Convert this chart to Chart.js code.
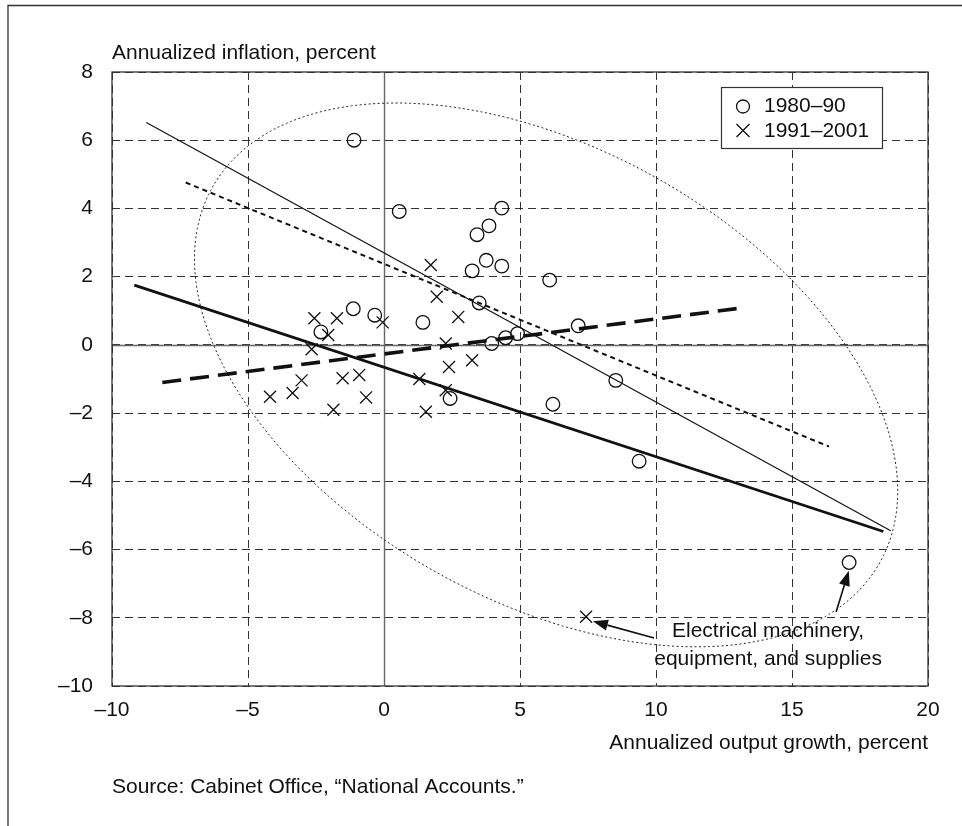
<!DOCTYPE html>
<html>
<head>
<meta charset="utf-8">
<script src="https://cdn.jsdelivr.net/npm/chart.js@4.4.1/dist/chart.umd.min.js"></script>
<style>
html,body{margin:0;padding:0;background:#fff;}
#wrap{width:962px;height:826px;position:relative;}
</style>
</head>
<body>
<div id="wrap"><canvas id="c" width="962" height="826"></canvas></div>
<script>
// ---- data ----
const growth80    = [-1.1, 0.56, 4.33, 3.86, 3.42, 3.76, 3.24, 4.33, 6.09, 3.50, -1.13, -0.34, 1.43, 7.14, 4.91, 4.47, 3.96, 8.52, 2.43, 6.21, -2.32, 9.38, 17.1];
const inflation80 = [6.0, 3.91, 4.01, 3.49, 3.23, 2.48, 2.17, 2.31, 1.90, 1.23, 1.06, 0.87, 0.66, 0.56, 0.33, 0.21, 0.04, -1.04, -1.57, -1.74, 0.38, -3.41, -6.38];
const growth91    = [-2.56, -1.73, -0.05, -2.05, -2.66, -3.03, -1.52, -0.91, -4.19, -3.36, -0.66, -1.86, 1.72, 1.94, 2.73, 2.27, 2.39, 3.24, 1.30, 2.27, 1.54, 7.43];
const inflation91 = [0.78, 0.78, 0.66, 0.29, -0.13, -1.04, -0.98, -0.88, -1.52, -1.41, -1.54, -1.90, 2.34, 1.41, 0.82, 0.04, -0.65, -0.45, -1.00, -1.33, -1.96, -7.97];

// regression lines (start / end)
const thinLineX  = [-8.74, 18.63];
const thinLineY  = [6.52, -5.45];
const thickLineX = [-9.18, 18.36];
const thickLineY = [1.75, -5.47];
const dotLineX   = [-7.29, 16.36];
const dotLineY   = [4.76, -2.98];
const dashLineX  = [-8.15, 13.22];
const dashLineY  = [-1.10, 1.09];

// outlier ellipse (data units): centre and conjugate semi-diameters
const ellipseCentre = [5.96, -0.88];
const ellipseU = [12.27, -5.50];
const ellipseV = [-4.07, -5.77];

// annotation arrows [fromX, fromY, toX, toY]
const arrow1 = [9.93, -8.59, 7.68, -8.10];
const arrow2 = [16.62, -7.83, 17.09, -6.62];
const noteText = ['Electrical machinery,', 'equipment, and supplies'];
const noteAt = [14.12, -8.39];

const seriesNames = ['1980\u201390', '1991\u20132001'];
const xTickValues = [-10, -5, 0, 5, 10, 15, 20];
const yTickValues = [-10, -8, -6, -4, -2, 0, 2, 4, 6, 8];
const xTitle = 'Annualized output growth, percent';
const yTitle = 'Annualized inflation, percent';
const sourceText = 'Source: Cabinet Office, \u201cNational Accounts.\u201d';

// ---- helpers ----
const pts = (xs, ys) => xs.map((x, i) => ({x: x, y: ys[i]}));
const dashLabel = v => (v < 0 ? '\u2013' + Math.abs(v) : String(v));

const FONT = "'Liberation Sans', Arial, Helvetica, sans-serif";
Chart.defaults.font.family = FONT;
Chart.defaults.font.size = 21;
Chart.defaults.color = '#111';

const decor = {
  id: 'decor',
  beforeDatasetsDraw(chart) {
    const ctx = chart.ctx, xs = chart.scales.x, ys = chart.scales.y, a = chart.chartArea;
    ctx.save();
    // zero lines
    ctx.strokeStyle = '#666'; ctx.lineWidth = 1.4; ctx.setLineDash([]);
    ctx.beginPath();
    const x0 = Math.round(xs.getPixelForValue(0)) + 0.5;
    const y0 = Math.round(ys.getPixelForValue(0)) + 0.5;
    ctx.moveTo(x0, a.top); ctx.lineTo(x0, a.bottom);
    ctx.moveTo(a.left, y0); ctx.lineTo(a.right, y0);
    ctx.stroke();
    // plot frame
    ctx.strokeStyle = '#333'; ctx.lineWidth = 1.3;
    ctx.strokeRect(a.left, a.top, a.right - a.left, a.bottom - a.top);
    // ellipse
    ctx.strokeStyle = '#222'; ctx.lineWidth = 1; ctx.setLineDash([2, 2.5]);
    ctx.beginPath();
    for (let i = 0; i <= 360; i++) {
      const t = i * Math.PI / 180;
      const dx = ellipseCentre[0] + ellipseU[0] * Math.cos(t) + ellipseV[0] * Math.sin(t);
      const dy = ellipseCentre[1] + ellipseU[1] * Math.cos(t) + ellipseV[1] * Math.sin(t);
      const px = xs.getPixelForValue(dx), py = ys.getPixelForValue(dy);
      if (i === 0) ctx.moveTo(px, py); else ctx.lineTo(px, py);
    }
    ctx.stroke();
    ctx.restore();
  },
  afterDraw(chart) {
    const ctx = chart.ctx, xs = chart.scales.x, ys = chart.scales.y, a = chart.chartArea;
    ctx.save();
    // outer frame (top + left)
    ctx.strokeStyle = '#333'; ctx.lineWidth = 1.3; ctx.setLineDash([]);
    ctx.beginPath();
    ctx.moveTo(8, 826); ctx.lineTo(8, 5.5); ctx.lineTo(962, 5.5);
    ctx.stroke();
    // titles
    ctx.fillStyle = '#111';
    ctx.font = '21px ' + FONT;
    ctx.textBaseline = 'middle';
    ctx.textAlign = 'left';
    ctx.fillText(yTitle, a.left, 53);
    ctx.textAlign = 'right';
    ctx.fillText(xTitle, a.right, 743);
    ctx.textAlign = 'left';
    ctx.fillText(sourceText, a.left, 787);
    // arrows
    [arrow1, arrow2].forEach(ar => {
      const fx = xs.getPixelForValue(ar[0]), fy = ys.getPixelForValue(ar[1]);
      const tx = xs.getPixelForValue(ar[2]), ty = ys.getPixelForValue(ar[3]);
      const ang = Math.atan2(ty - fy, tx - fx);
      const hl = 15, hw = 5.5;
      const bx = tx - hl * Math.cos(ang), by = ty - hl * Math.sin(ang);
      ctx.strokeStyle = '#111'; ctx.lineWidth = 1.6;
      ctx.beginPath(); ctx.moveTo(fx, fy); ctx.lineTo(bx, by); ctx.stroke();
      ctx.fillStyle = '#111';
      ctx.beginPath();
      ctx.moveTo(tx, ty);
      ctx.lineTo(bx + hw * Math.sin(ang), by - hw * Math.cos(ang));
      ctx.lineTo(bx - hw * Math.sin(ang), by + hw * Math.cos(ang));
      ctx.closePath(); ctx.fill();
    });
    // note
    ctx.fillStyle = '#111';
    ctx.textAlign = 'center';
    const nx = xs.getPixelForValue(noteAt[0]), ny = ys.getPixelForValue(noteAt[1]);
    ctx.fillText(noteText[0], nx, ny);
    ctx.fillText(noteText[1], nx, ny + 28);
    // legend
    const lx = a.right - 207, ly = a.top + 15, lw = 161, lh = 61;
    ctx.fillStyle = '#fff';
    ctx.fillRect(lx, ly, lw, lh);
    ctx.strokeStyle = '#333'; ctx.lineWidth = 1.2;
    ctx.strokeRect(lx + 0.5, ly + 0.5, lw, lh);
    ctx.strokeStyle = '#111'; ctx.lineWidth = 1.3;
    ctx.beginPath(); ctx.arc(lx + 22, ly + 19.5, 6.5, 0, Math.PI * 2); ctx.stroke();
    const cx = lx + 22, cy = ly + 43.5, r = 6.5;
    ctx.beginPath();
    ctx.moveTo(cx - r, cy - r); ctx.lineTo(cx + r, cy + r);
    ctx.moveTo(cx + r, cy - r); ctx.lineTo(cx - r, cy + r);
    ctx.stroke();
    ctx.fillStyle = '#111';
    ctx.textAlign = 'left';
    ctx.fillText(seriesNames[0], lx + 43, ly + 19.5);
    ctx.fillText(seriesNames[1], lx + 43, ly + 44);
    ctx.restore();
  }
};

const lineDs = (xs, ys, w, dash) => ({
  type: 'scatter', data: pts(xs, ys), showLine: true, borderColor: '#111',
  borderWidth: w, borderDash: dash, pointRadius: 0, fill: false, order: 5
});

new Chart(document.getElementById('c'), {
  type: 'scatter',
  data: {
    datasets: [
      lineDs(thinLineX, thinLineY, 1.2, []),
      lineDs(thickLineX, thickLineY, 2.8, []),
      lineDs(dotLineX, dotLineY, 2, [5, 4]),
      lineDs(dashLineX, dashLineY, 3.6, [19, 9]),
      { label: seriesNames[0], data: pts(growth80, inflation80), pointStyle: 'circle', pointRadius: 6.8,
        borderColor: '#111', borderWidth: 1.3, backgroundColor: 'rgba(255,255,255,0)', order: 1 },
      { label: seriesNames[1], data: pts(growth91, inflation91), pointStyle: 'crossRot', pointRadius: 8.5,
        borderColor: '#111', borderWidth: 1.3, order: 1 }
    ]
  },
  options: {
    responsive: false,
    animation: false,
    devicePixelRatio: 1,
    events: [],
    layout: { padding: { left: 0, top: 72, right: 34, bottom: 0 } },
    plugins: { legend: { display: false }, tooltip: { enabled: false }, title: { display: false } },
    scales: {
      x: {
        type: 'linear', min: -10, max: 20,
        afterBuildTicks: s => { s.ticks = xTickValues.map(v => ({value: v})); },
        afterFit: s => { s.height = 140; },
        ticks: { callback: v => dashLabel(v), padding: 12, maxRotation: 0, color: '#111', font: { size: 21 } },
        grid: { color: '#333', lineWidth: 1, drawTicks: false },
        border: { display: false, dash: [8, 5] }
      },
      y: {
        type: 'linear', min: -10, max: 8,
        afterBuildTicks: s => { s.ticks = yTickValues.map(v => ({value: v})); },
        afterFit: s => { s.width = 112; },
        ticks: { callback: v => dashLabel(v), padding: 19, color: '#111', font: { size: 21 } },
        grid: { color: '#333', lineWidth: 1, drawTicks: false },
        border: { display: false, dash: [8, 5] }
      }
    }
  },
  plugins: [decor]
});
</script>
</body>
</html>
